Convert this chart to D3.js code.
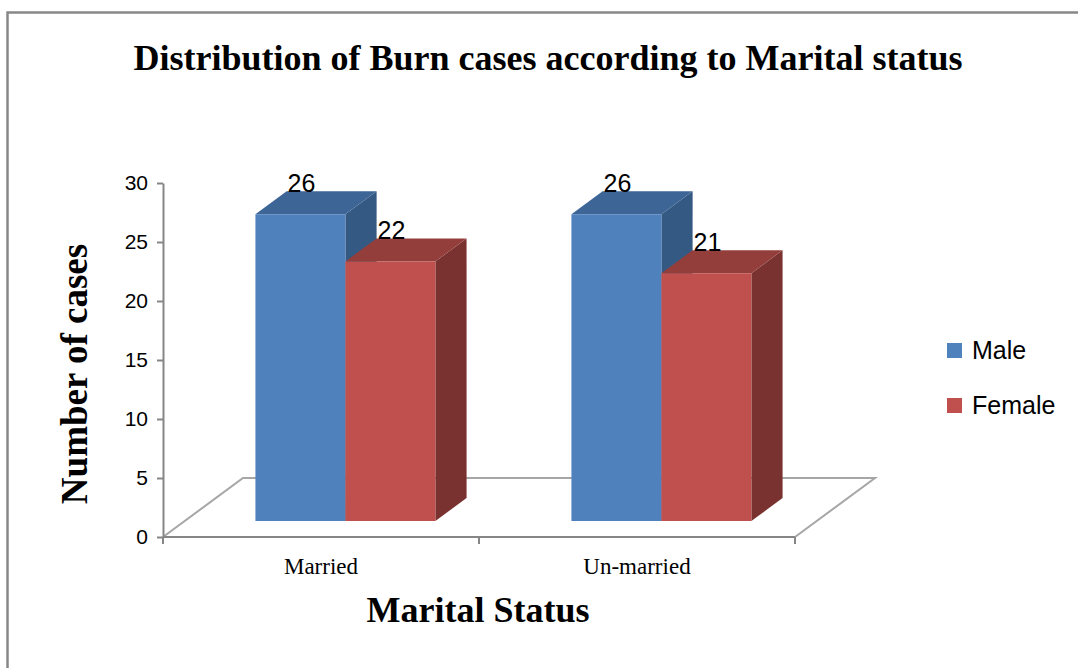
<!DOCTYPE html>
<html>
<head>
<meta charset="utf-8">
<script src="https://cdn.jsdelivr.net/npm/d3@7"></script>
<style>
  body { margin: 0; background: #fff; }
  svg { display: block; }
</style>
</head>
<body>
<div id="chart"></div>
<script>
const categories = ["Married", "Un-married"];
const series = ["Male", "Female"];
const maleValues = [26, 26];
const femaleValues = [22, 21];
const yTicks = [0, 5, 10, 15, 20, 25, 30];

const width = 1078;
const height = 668;

// colours per series: front, top, side
const shades = {
  Male:   { front: "#4f81bd", top: "#3d6595", side: "#345a84" },
  Female: { front: "#c0504d", top: "#933e3b", side: "#7a3230" }
};

const svg = d3.select("#chart")
  .append("svg")
  .attr("width", width)
  .attr("height", height)
  .attr("viewBox", [0, 0, width, height]);

// chart frame (runs off the right and bottom edges)
svg.append("rect")
  .attr("x", 7.5).attr("y", 12.5)
  .attr("width", width + 20).attr("height", height + 20)
  .attr("fill", "none")
  .attr("stroke", "#888")
  .attr("stroke-width", 2.5);

// scales
const xCat = d3.scaleBand()
  .domain(categories)
  .range([163, 795])
  .padding(0);

const xSeries = d3.scaleBand()
  .domain(series)
  .range([0, xCat.bandwidth()])
  .paddingInner(0)
  .paddingOuter(0.756)
  .align(0.52);

const y = d3.scaleLinear()
  .domain([0, 30])
  .range([537, 183]);

// oblique depth: z = 0 is front plane, z = 1 is back of the floor
const depthX = 80, depthY = 59;
const zFront = 0.271, zBack = 0.661;
const proj = (x, v, z) => [x + z * depthX, y(v) - z * depthY];

// floor outline
const [x0, x1] = xCat.range();
const floorPts = [proj(x0, 0, 0), proj(x0, 0, 1), proj(x1, 0, 1), proj(x1, 0, 0)];
svg.append("path")
  .attr("d", d3.line()(floorPts))
  .attr("fill", "none")
  .attr("stroke", "#a6a6a6")
  .attr("stroke-width", 2);

// y axis
const yAxis = svg.append("g")
  .attr("transform", `translate(${x0},0)`)
  .call(d3.axisLeft(y).tickValues(yTicks).tickSize(6).tickSizeOuter(0).tickPadding(9));
yAxis.select(".domain").attr("stroke", "#868686").attr("stroke-width", 2);
yAxis.selectAll(".tick line").attr("stroke", "#868686").attr("stroke-width", 2);
yAxis.selectAll(".tick text")
  .attr("fill", "#000")
  .style("font-family", "'Liberation Sans', Arial, sans-serif")
  .style("font-size", "21px");

// x axis: front edge of floor with ticks on category boundaries
const xAxis = svg.append("g");
xAxis.append("line")
  .attr("x1", x0).attr("x2", x1)
  .attr("y1", y(0)).attr("y2", y(0))
  .attr("stroke", "#868686").attr("stroke-width", 2);
const boundaries = categories.map(c => xCat(c)).concat([x1]);
xAxis.selectAll("line.tick")
  .data(boundaries)
  .join("line")
  .attr("class", "tick")
  .attr("x1", d => d).attr("x2", d => d)
  .attr("y1", y(0)).attr("y2", y(0) + 7)
  .attr("stroke", "#868686").attr("stroke-width", 2);
xAxis.selectAll("text")
  .data(categories)
  .join("text")
  .attr("x", d => xCat(d) + xCat.bandwidth() / 2)
  .attr("y", 574)
  .attr("text-anchor", "middle")
  .style("font-family", "'Liberation Serif', 'Times New Roman', serif")
  .style("font-size", "23px")
  .text(d => d);

// bars
const rows = [];
categories.forEach((c, i) => {
  rows.push({ cat: c, s: "Male", v: maleValues[i] });
  rows.push({ cat: c, s: "Female", v: femaleValues[i] });
});

const bars = svg.append("g");
rows.forEach(d => {
  const bx0 = xCat(d.cat) + xSeries(d.s);
  const bx1 = bx0 + xSeries.bandwidth();
  const g = bars.append("g");
  const col = shades[d.s];
  g.append("path")
    .attr("d", d3.line()([proj(bx1, 0, zFront), proj(bx1, 0, zBack), proj(bx1, d.v, zBack), proj(bx1, d.v, zFront)]) + "Z")
    .attr("fill", col.side);
  g.append("path")
    .attr("d", d3.line()([proj(bx0, d.v, zFront), proj(bx1, d.v, zFront), proj(bx1, d.v, zBack), proj(bx0, d.v, zBack)]) + "Z")
    .attr("fill", col.top);
  g.append("path")
    .attr("d", d3.line()([proj(bx0, 0, zFront), proj(bx1, 0, zFront), proj(bx1, d.v, zFront), proj(bx0, d.v, zFront)]) + "Z")
    .attr("fill", col.front);
});

// value labels at the back-left top corner
svg.append("g")
  .selectAll("text")
  .data(rows)
  .join("text")
  .attr("x", d => proj(xCat(d.cat) + xSeries(d.s), d.v, zBack)[0] + 1)
  .attr("y", d => proj(xCat(d.cat) + xSeries(d.s), d.v, zBack)[1] + 1)
  .style("font-family", "'Liberation Sans', Arial, sans-serif")
  .style("font-size", "25px")
  .text(d => d.v);

// titles
const serif = "'Liberation Serif', 'Times New Roman', serif";
svg.append("text")
  .attr("x", 548).attr("y", 70)
  .attr("text-anchor", "middle")
  .style("font-family", serif)
  .style("font-weight", "bold")
  .style("font-size", "36px")
  .text("Distribution of Burn cases according to Marital status");

svg.append("text")
  .attr("x", 478).attr("y", 622)
  .attr("text-anchor", "middle")
  .style("font-family", serif)
  .style("font-weight", "bold")
  .style("font-size", "36px")
  .text("Marital Status");

svg.append("text")
  .attr("transform", "translate(87,374) rotate(-90)")
  .attr("text-anchor", "middle")
  .style("font-family", serif)
  .style("font-weight", "bold")
  .style("font-size", "37px")
  .text("Number of cases");

// legend
const legend = svg.append("g")
  .selectAll("g")
  .data(series)
  .join("g")
  .attr("transform", (d, i) => `translate(947,${343 + i * 55})`);
legend.append("rect")
  .attr("width", 15).attr("height", 15)
  .attr("fill", d => shades[d].front);
legend.append("text")
  .attr("x", 25).attr("y", 16)
  .style("font-family", "'Liberation Sans', Arial, sans-serif")
  .style("font-size", "25px")
  .text(d => d);
</script>
</body>
</html>
